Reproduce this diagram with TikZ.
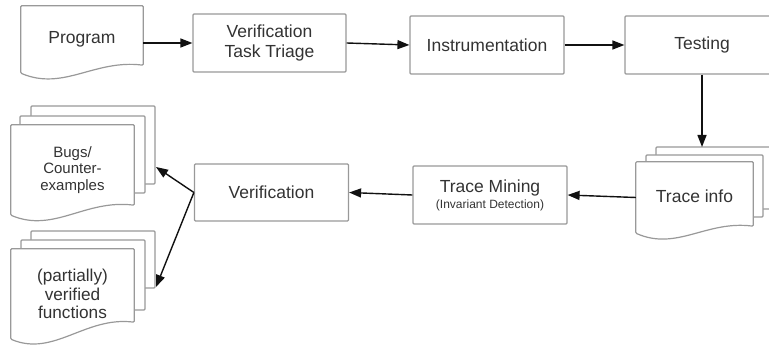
\documentclass[tikz,border=0pt]{standalone}
\usepackage{xcolor}
\usepackage{fontspec}
\setmainfont{Liberation Sans}
\usepackage{tikz}
\usetikzlibrary{arrows.meta,calc}

\definecolor{boxgray}{HTML}{999999}
\definecolor{txtgray}{HTML}{333333}
\definecolor{arrowblack}{HTML}{111111}

\pgfdeclarelayer{back}
\pgfsetlayers{back,main}

\tikzset{
  box/.style = {draw=boxgray, line width=1.2pt, rounded corners=1pt, fill=white,
                text=txtgray, minimum width=154pt, minimum height=58pt, align=center,
                font=\fontsize{17.5}{20}\selectfont},
  doc/.style = {text=txtgray, align=center, inner sep=0pt,
                font=\fontsize{17.5}{20}\selectfont},
  docline/.style = {draw=boxgray, line width=1.2pt, fill=white, rounded corners=1pt},
  flow/.style = {draw=arrowblack, line width=1.4pt, -{Triangle[length=12pt,width=9pt]}},
}

% document outline with a wavy bottom edge
\newcommand\docoutline[2]{%
  \path[docline] (#1.south west) -- (#1.north west) -- (#1.north east)
    -- ([yshift=#2]#1.south east)
    .. controls ($(#1.south west)!0.6!(#1.south east)+(0,#2+6pt)$)
       and ($(#1.south west)!0.35!(#1.south east)+(0,-18pt)$) .. (#1.south west) -- cycle;}

\begin{document}
\begin{tikzpicture}[x=1pt, y=-1pt]
  \useasboundingbox (0,0) rectangle (769,347);

  % top row
  \node[doc, minimum width=122pt, minimum height=67pt] (prog) at (82,39.5) {Program};
  \node[box, minimum width=153pt] (vtt) at (269.5,43) {Verification\\Task Triage};
  \node[box] (instr) at (487,45) {Instrumentation};
  \node[box] (test) at (702,45) {Testing};

  % bottom row
  \node[doc, minimum width=117pt, minimum height=71pt] (trinfo) at (694.5,197.5)
    {\raisebox{3pt}{Trace info}};
  \node[box] (tmine) at (490,195)
    {Trace Mining\\[-4pt]{\fontsize{12}{14}\selectfont(Invariant Detection)}};
  \node[box, minimum height=57pt] (verif) at (271.5,192.5) {Verification};

  % results
  \node[doc, minimum width=123pt, minimum height=90pt,
        font=\fontsize{15}{16.5}\selectfont] (bugs) at (72.5,170) {Bugs/\\Counter-\\examples};
  \node[doc, minimum width=123pt, minimum height=90pt,
        font=\fontsize{17.2}{18.5}\selectfont] (vfun) at (72.5,294) {(partially)\\verified\\functions};

  \begin{pgfonlayer}{back}
    \docoutline{prog}{8pt}
    % stacked sheets
    \path[docline] (656,147) rectangle (773,209);
    \path[docline] (646,155) rectangle (763,217);
    \docoutline{trinfo}{7pt}
    \path[docline] (31,106) rectangle (155,184);
    \path[docline] (20,116) rectangle (145,193);
    \docoutline{bugs}{10pt}
    \path[docline] (31,231) rectangle (155,288);
    \path[docline] (21,240) rectangle (145,310);
    \docoutline{vfun}{17pt}
  \end{pgfonlayer}

  \coordinate (trtop) at (702,147);
  \coordinate (bugsin) at (156,167);
  \coordinate (vfunin) at (156,287);

  \draw[flow] (prog.east |- vtt.west) -- (vtt.west);
  \draw[flow] (vtt.east) -- (instr.west);
  \draw[flow] (instr.east) -- (test.west);
  \draw[flow] (test.south) -- (trtop);
  \draw[flow] (trinfo.west) -- (tmine.east);
  \draw[flow] (tmine.west) -- (verif.east);
  \draw[flow] (verif.west) -- (bugsin);
  \draw[flow] (verif.west) -- (vfunin);
\end{tikzpicture}
\end{document}
